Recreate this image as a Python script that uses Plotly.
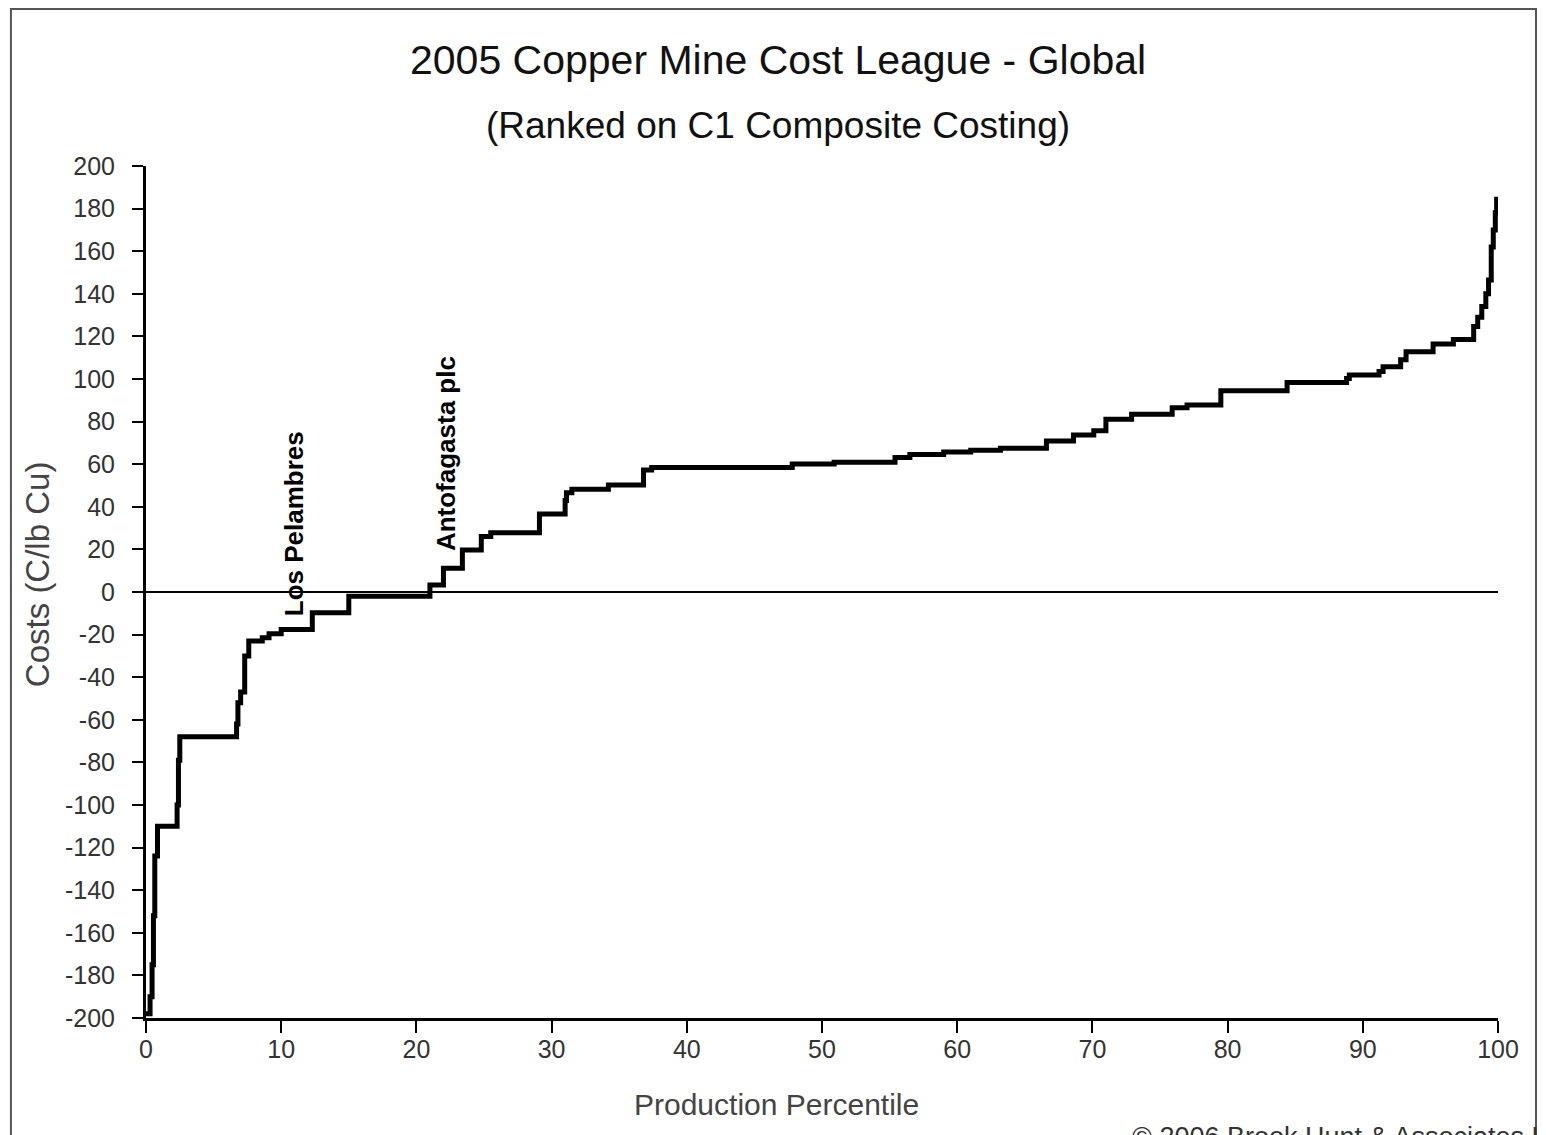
import plotly.graph_objects as go

# Production percentile where each cost step begins, and its C1 cost (C/lb Cu)
percentile = [0.0, 0.3, 0.45, 0.55, 0.65, 0.85, 2.3, 2.4, 2.5, 6.7, 6.8, 7.0, 7.3, 7.6,
              8.6, 9.1, 10.0, 12.3, 15.0, 21.0, 22.0, 23.4, 24.8, 25.5, 29.1, 31.0, 31.1,
              31.5, 34.2, 36.8, 37.4, 47.8, 50.9, 55.4, 56.5, 59.0, 61.0, 63.2, 66.6, 68.6,
              70.1, 71.0, 72.9, 75.9, 77.0, 79.5, 84.4, 88.8, 89.0, 91.2, 91.5, 92.8, 93.2,
              95.2, 96.7, 98.2, 98.5, 98.8, 99.1, 99.3, 99.5, 99.65, 99.8, 99.9]
cost = [-198, -190, -175, -152, -124, -110, -100, -79, -68, -62, -52, -47, -30, -23,
        -21.5, -19.6, -17.6, -9.7, -2, 3.3, 11.1, 19.7, 26, 27.8, 36.6, 43, 46.6,
        48.2, 50.2, 57.3, 58.4, 60.1, 60.9, 63.2, 64.6, 65.7, 66.5, 67.5, 70.9, 73.7,
        75.7, 81.1, 83.4, 86.5, 87.8, 94.5, 98.4, 100.2, 101.9, 103.5, 105.8, 109, 112.8,
        116.4, 118.6, 124.6, 129, 134, 140, 146.5, 162, 170, 178, 185.6]

x_ticks = list(range(0, 101, 10))
y_ticks = list(range(-200, 201, 20))

labels = ["Los Pelambres", "Antofagasta plc"]
label_x = [10.9, 22.2]
label_y = [32, 64.8]

FONT = "Liberation Sans, Arial, sans-serif"

fig = go.Figure()
fig.add_trace(go.Scatter(
    x=percentile, y=cost, mode="lines",
    line=dict(color="black", width=5, shape="hv"),
    showlegend=False, hoverinfo="x+y",
))

fig.update_layout(
    width=1538, height=1127,
    margin=dict(l=138, r=48, t=158, b=117),
    paper_bgcolor="white", plot_bgcolor="white",
    font=dict(family=FONT, color="#333"),
    showlegend=False,
    xaxis=dict(
        range=[0, 100], tickvals=x_ticks, ticktext=[str(v) for v in x_ticks],
        showgrid=False, zeroline=False,
        showline=True, linecolor="black", linewidth=3,
        ticks="outside", ticklen=12, tickwidth=2, tickcolor="black",
        tickfont=dict(size=25, color="#333", family=FONT),
        ticklabelstandoff=-5,
    ),
    yaxis=dict(
        range=[-200, 200], tickvals=y_ticks, ticktext=[str(v) for v in y_ticks],
        showgrid=False,
        zeroline=True, zerolinecolor="black", zerolinewidth=1.5,
        showline=True, linecolor="black", linewidth=3,
        ticks="outside", ticklen=11, tickwidth=2, tickcolor="black",
        tickfont=dict(size=25, color="#333", family=FONT),
        ticklabelstandoff=12,
    ),
)

# Outer frame
fig.add_shape(type="rect", xref="paper", yref="paper",
              x0=-0.0999, x1=1.0281, y0=-0.16, y1=1.1843,
              line=dict(color="#555", width=2), fillcolor="rgba(0,0,0,0)", layer="below")

# Titles
fig.add_annotation(text="2005 Copper Mine Cost League - Global", xref="paper", yref="paper",
                   x=0.4675, y=1.1244, xanchor="center", yanchor="middle", showarrow=False,
                   font=dict(size=41, color="#111", family=FONT))
fig.add_annotation(text="(Ranked on C1 Composite Costing)", xref="paper", yref="paper",
                   x=0.4675, y=1.047, xanchor="center", yanchor="middle", showarrow=False,
                   font=dict(size=37, color="#111", family=FONT))

# Axis titles
fig.add_annotation(text="Costs (C/lb Cu)", xref="paper", yref="paper",
                   x=-0.0806, y=0.521, xanchor="center", yanchor="middle", textangle=-90,
                   showarrow=False, font=dict(size=33, color="#444", family=FONT))
fig.add_annotation(text="Production Percentile", xref="paper", yref="paper",
                   x=0.4667, y=-0.1021, xanchor="center", yanchor="middle",
                   showarrow=False, font=dict(size=30, color="#444", family=FONT))

# Copyright (cut off at bottom edge, as in the original)
fig.add_annotation(text="© 2006 Brook Hunt & Associates Ltd", xref="paper", yref="paper",
                   x=0.7278, y=-0.1197, xanchor="left", yanchor="top",
                   showarrow=False, font=dict(size=27, color="#333", family=FONT))

# Mine labels
for t, lx, ly in zip(labels, label_x, label_y):
    fig.add_annotation(text=f"<b>{t}</b>", x=lx, y=ly, xref="x", yref="y",
                       textangle=-90, showarrow=False, xanchor="center", yanchor="middle",
                       font=dict(size=26, color="black", family=FONT))

fig.write_html("out.html")
